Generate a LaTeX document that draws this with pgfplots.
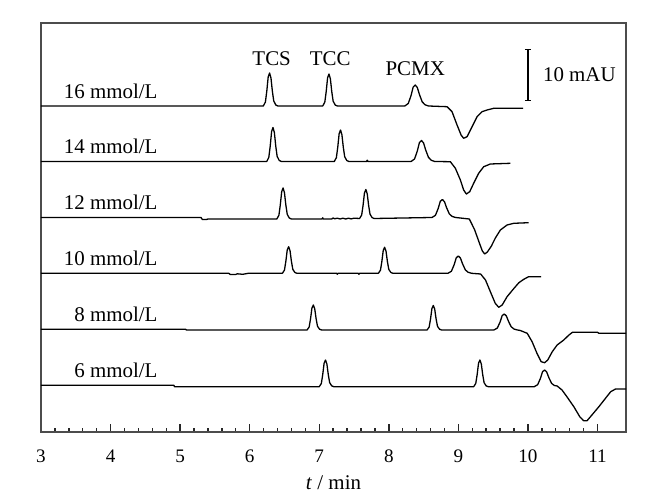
\documentclass[border=0pt]{standalone}
\usepackage{pgfplots}
\pgfplotsset{compat=1.18}
\usepackage{fontspec}
\setmainfont{Liberation Serif}
\begin{document}
\begin{tikzpicture}[trace/.style={black, line width=0.65pt, line join=round, mark=none, solid}]
\begin{axis}[
 scale only axis, width=292.5bp, height=204.5bp,
 xmin=3, xmax=11.41, ymin=-432, ymax=-23,
 axis line style={draw=black!70, line width=0.8pt},
 xtick={3,4,...,11}, minor x tick num=4,
 tick align=inside, xtick pos=left,
 ytick=\empty,
 major tick length=3.9bp, minor tick length=2.1bp,
 every tick/.style={black!85, line width=0.7pt},
 xlabel={\textit{t} / min},
 ticklabel style={font=\fontsize{9.6}{11}\selectfont},
 xticklabel style={yshift=-5.5bp},
 label style={font=\fontsize{10.5}{12}\selectfont},
 xlabel style={at={(axis description cs:0.5,0)}, anchor=center, inner sep=0pt, yshift=-25.3bp},
 /pgf/number format/assume math mode=true,
 clip=false,
]
\coordinate (bl) at (rel axis cs:0,0);
\coordinate (tr) at (rel axis cs:1,1);
% 16 mmol/L
\addplot[trace] coordinates {(3,-106) (6.196,-106) (6.226,-102.04) (6.246,-91.15) (6.266,-76.96) (6.286,-73) (6.306,-77.95) (6.326,-91.15) (6.346,-101.05) (6.376,-105.01) (6.406,-106)
(7.05,-106) (7.08,-102.16) (7.10,-91.6) (7.12,-77.84) (7.14,-74) (7.16,-78.8) (7.18,-91.6) (7.20,-101.2) (7.23,-105.04) (7.26,-106)
(8.23,-106) (8.28,-103.48) (8.32,-95.5) (8.35,-87.1) (8.38,-85) (8.41,-87.52) (8.44,-94.45) (8.48,-101.8) (8.52,-104.74) (8.57,-106)
(8.837,-106.7) (8.909,-111.7) (8.981,-125) (9.039,-135) (9.076,-138.3) (9.125,-136.7) (9.197,-126.7) (9.269,-116.7) (9.341,-111.7) (9.413,-110) (9.508,-108.3) (9.93,-108.3)};
% 14 mmol/L
\addplot[trace] coordinates {(3,-161.5) (6.245,-161.5) (6.275,-157.42) (6.295,-146.2) (6.315,-131.58) (6.335,-127.5) (6.355,-132.6) (6.375,-146.2) (6.395,-156.4) (6.425,-160.48) (6.455,-161.5)
(7.216,-161.5) (7.246,-157.72) (7.266,-147.32) (7.286,-133.78) (7.306,-130) (7.326,-134.72) (7.346,-147.32) (7.366,-156.77) (7.396,-160.55) (7.426,-161.5)
(7.68,-161.5) (7.69,-160.2) (7.70,-161.5)
(8.32,-161.5) (8.37,-158.98) (8.41,-151) (8.44,-142.6) (8.47,-140.5) (8.50,-143.02) (8.53,-149.95) (8.57,-157.3) (8.61,-160.24) (8.66,-161.5)
(8.885,-161.7) (8.957,-168.3) (9.029,-180) (9.076,-190) (9.115,-194) (9.163,-191.7) (9.22,-183.3) (9.292,-173.3) (9.364,-166.7) (9.46,-164) (9.748,-163.3)};
% 12 mmol/L
\addplot[trace] coordinates {(3,-217.5) (5.30,-217.5) (5.32,-219.5) (5.38,-219.5) (5.40,-219) (6.39,-219) (6.42,-215.28) (6.44,-205.05) (6.46,-191.72) (6.48,-188) (6.50,-192.65) (6.52,-205.05) (6.54,-214.35) (6.57,-218.07) (6.60,-219)
(7.04,-219) (7.05,-217.8) (7.06,-219) (7.18,-219) (7.20,-217.9) (7.22,-218.8) (7.26,-218.2) (7.30,-219) (7.34,-218.2) (7.38,-219) (7.42,-218.2) (7.46,-218.9) (7.50,-218.2) (7.58,-218.5)
(7.61,-215.02) (7.63,-205.45) (7.65,-192.98) (7.67,-189.5) (7.69,-193.85) (7.71,-205.45) (7.73,-214.15) (7.76,-217.63) (7.79,-218.5)
(8.62,-217.5) (8.67,-215.34) (8.71,-208.5) (8.74,-201.3) (8.77,-199.5) (8.80,-201.66) (8.83,-207.6) (8.87,-213.9) (8.91,-216.42) (8.96,-217.5)
(9.158,-219) (9.235,-230) (9.302,-243) (9.345,-251) (9.378,-254) (9.417,-252) (9.475,-246) (9.532,-238) (9.604,-230) (9.70,-225) (9.796,-223.3) (10.01,-222.7)};
% 10 mmol/L
\addplot[trace] coordinates {(3,-273.3) (5.70,-273.3) (5.72,-274.5) (5.80,-274.5) (5.82,-273.8) (5.90,-274.3) (5.98,-273.3)
(6.47,-273.3) (6.50,-270.11) (6.52,-261.33) (6.54,-249.89) (6.56,-246.7) (6.58,-250.69) (6.60,-261.33) (6.62,-269.31) (6.65,-272.5) (6.68,-273.3)
(7.25,-273.3) (7.26,-274.3) (7.27,-273.3) (7.56,-273.3) (7.57,-274.3) (7.58,-273.3)
(7.85,-273.3) (7.88,-270.18) (7.90,-261.6) (7.92,-250.42) (7.94,-247.3) (7.96,-251.2) (7.98,-261.6) (8.00,-269.4) (8.03,-272.52) (8.06,-273.3)
(8.85,-273.3) (8.90,-271.22) (8.94,-264.65) (8.97,-257.73) (9.00,-256) (9.03,-258.08) (9.06,-263.78) (9.10,-269.84) (9.14,-272.26) (9.19,-273.3)
(9.32,-274) (9.39,-280) (9.46,-291.7) (9.53,-303.3) (9.58,-307.3) (9.63,-305) (9.70,-296.7) (9.80,-288.3) (9.87,-282.7) (9.94,-279.3) (10.01,-276.7) (10.19,-276.7)};
% 8 mmol/L
\addplot[trace] coordinates {(3,-329.3) (5.08,-329.3) (5.09,-330)
(6.825,-330) (6.855,-327) (6.875,-318.75) (6.895,-308) (6.915,-305) (6.935,-308.75) (6.955,-318.75) (6.975,-326.25) (7.005,-329.25) (7.035,-330)
(8.55,-330) (8.58,-327.06) (8.60,-318.97) (8.62,-308.44) (8.64,-305.5) (8.66,-309.17) (8.68,-318.97) (8.70,-326.32) (8.73,-329.26) (8.76,-330)
(9.51,-330) (9.56,-328.08) (9.60,-322) (9.63,-315.6) (9.66,-314) (9.69,-315.92) (9.72,-321.2) (9.76,-326.8) (9.80,-329.04) (9.85,-330)
(9.89,-330.5) (9.99,-333.3) (10.06,-341.7) (10.13,-353.3) (10.19,-361.7) (10.24,-362.7) (10.285,-360) (10.35,-351.7) (10.42,-345) (10.515,-340) (10.59,-335) (10.64,-332.3) (11.0,-332.3) (11.02,-333.3) (11.41,-333.3)};
% 6 mmol/L
\addplot[trace] coordinates {(3,-385.3) (4.91,-385.3) (4.92,-386.7)
(7.00,-386.7) (7.03,-383.5) (7.05,-374.68) (7.07,-363.2) (7.09,-360) (7.11,-364) (7.13,-374.68) (7.15,-382.7) (7.18,-385.9) (7.21,-386.7)
(9.22,-386.7) (9.25,-383.5) (9.27,-374.68) (9.29,-363.2) (9.31,-360) (9.33,-364) (9.35,-374.68) (9.37,-382.7) (9.40,-385.9) (9.43,-386.7)
(10.09,-386.7) (10.14,-384.7) (10.18,-378.35) (10.21,-371.67) (10.24,-370) (10.27,-372) (10.30,-377.51) (10.34,-383.36) (10.38,-385.5) (10.42,-386)
(10.49,-390) (10.56,-396.7) (10.66,-406.7) (10.745,-416.7) (10.80,-420.7) (10.85,-420.7) (10.92,-415) (11.02,-406.7) (11.115,-398.3) (11.19,-391.7) (11.26,-389) (11.41,-389)};
% scale bar
\addplot[trace, line width=0.6pt] coordinates {(10,-49.3) (10,-100.7)};
\addplot[trace, line width=0.6pt] coordinates {(9.955,-49.3) (10.045,-49.3)};
\addplot[trace, line width=0.6pt] coordinates {(9.955,-100.7) (10.045,-100.7)};
\node[font=\fontsize{10.5}{12}\selectfont] at (axis cs:10.74,-75) {10 mAU};
% labels
\begin{scope}[every node/.style={font=\fontsize{10.5}{12}\selectfont, anchor=east, inner sep=0pt}]
\node at (axis cs:4.68,-91) {16 mmol/L};
\node at (axis cs:4.68,-146.7) {14 mmol/L};
\node at (axis cs:4.68,-202.3) {12 mmol/L};
\node at (axis cs:4.68,-258.3) {10 mmol/L};
\node at (axis cs:4.68,-314.3) {8 mmol/L};
\node at (axis cs:4.68,-370) {6 mmol/L};
\end{scope}
\begin{scope}[every node/.style={font=\fontsize{10.5}{12}\selectfont, inner sep=0pt}]
\node at (axis cs:6.316,-58.3) {TCS};
\node at (axis cs:7.158,-58.3) {TCC};
\node at (axis cs:8.38,-69) {PCMX};
\end{scope}
\end{axis}
\pgfresetboundingbox
\path[use as bounding box] ([shift={(-20.5bp,-31bp)}]bl) rectangle ([shift={(20bp,11.5bp)}]tr);
\end{tikzpicture}
\end{document}
